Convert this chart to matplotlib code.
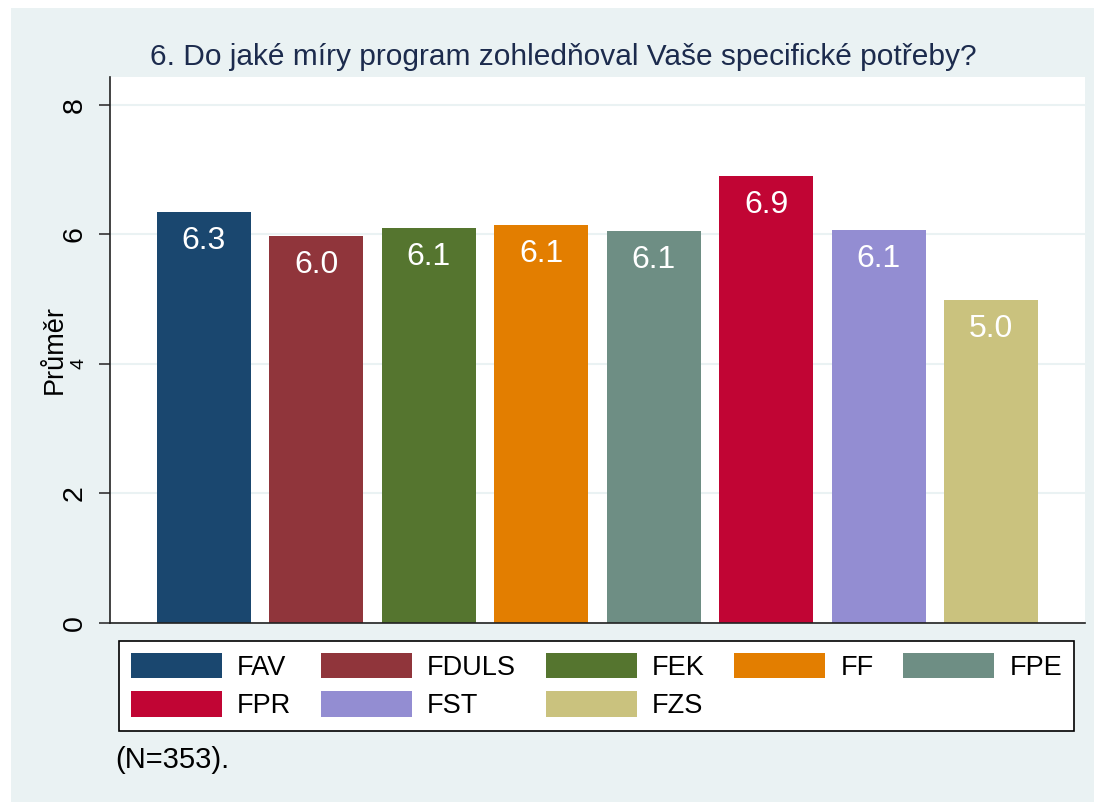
import numpy as np
import matplotlib
matplotlib.use("Agg")
import matplotlib.pyplot as plt
from matplotlib.patches import Rectangle, Patch

# data
faculties = ["FAV", "FDULS", "FEK", "FF", "FPE", "FPR", "FST", "FZS"]
means = [6.34, 5.97, 6.10, 6.14, 6.05, 6.90, 6.07, 4.99]
labels = ["6.3", "6.0", "6.1", "6.1", "6.1", "6.9", "6.1", "5.0"]
colors = ["#1a476f", "#90353b", "#55752f", "#e37e00",
          "#6e8e84", "#c10534", "#938dd2", "#cac27e"]
yticks = [0, 2, 4, 6, 8]

title = "6. Do jaké míry program zohledňoval Vaše specifické potřeby?"
note = "(N=353)."

plt.rcParams["font.family"] = ["Liberation Sans", "DejaVu Sans"]
bg = "#eaf2f3"

W, H = 1094, 802
fig = plt.figure(figsize=(W / 100, H / 100), dpi=100, facecolor="white")
fig.patches.append(Rectangle((11 / W, 0), 1 - 11 / W, 1 - 8 / H,
                             transform=fig.transFigure, facecolor=bg,
                             edgecolor="none", zorder=-10))

ax = fig.add_axes([110 / W, 1 - 623 / H, (1085 - 110) / W, (623 - 77) / H])
ax.set_facecolor("white")

x = np.arange(len(faculties))
bars = ax.bar(x, means, width=0.836, color=colors, edgecolor="none", zorder=2)

# value labels inside the top of each bar
for xi, v, lab in zip(x, means, labels):
    ax.annotate(lab, (xi, v), xytext=(0, -10), textcoords="offset points",
                ha="center", va="top", color="white", fontsize=23, zorder=3)

ax.set_xlim(-0.836, len(faculties) - 1 + 0.836)
ax.set_ylim(0, 8.43)
ax.set_xticks([])
ax.set_yticks(yticks)
ax.set_yticklabels([str(t) for t in yticks], rotation=90, va="center", fontsize=20.5)
ax.get_yticklabels()[2].set_fontsize(14)
ax.tick_params(axis="y", length=8, width=1.2, pad=8, color="#333333")
ax.grid(axis="y", color=bg, lw=1.5, zorder=0)

for side in ["top", "right"]:
    ax.spines[side].set_visible(False)
for side in ["left", "bottom"]:
    ax.spines[side].set_color("#222222")
    ax.spines[side].set_linewidth(1.2)

fig.text(563 / W, 1 - 57 / H, title, ha="center", va="center",
         fontsize=21.5, color="#1c2b4d")
fig.text(55 / W, 1 - 350 / H, "Průměr", rotation=90, ha="center", va="center",
         fontsize=19.5)
fig.text(115 / W, 1 - 760 / H, note, ha="left", va="center", fontsize=21)

# legend in row order (matplotlib fills columns first)
handles = [Patch(facecolor=c, edgecolor="none") for c in colors]
order = [0, 5, 1, 6, 2, 7, 3, 4]
leg = fig.legend([handles[i] for i in order], [faculties[i] for i in order],
                 ncol=5, loc="lower left", mode="expand",
                 bbox_to_anchor=(119 / W, 1 - 731 / H, 955 / W, 90 / H),
                 borderaxespad=0, fontsize=19.5, handlelength=3.36,
                 handleheight=1.08, handletextpad=0.55, labelspacing=0.38,
                 borderpad=0.44, columnspacing=1.05, fancybox=False,
                 framealpha=1)
leg.get_frame().set_edgecolor("black")
leg.get_frame().set_facecolor("white")
leg.get_frame().set_linewidth(1.2)

fig.savefig("out.png", dpi=100, facecolor="white")
